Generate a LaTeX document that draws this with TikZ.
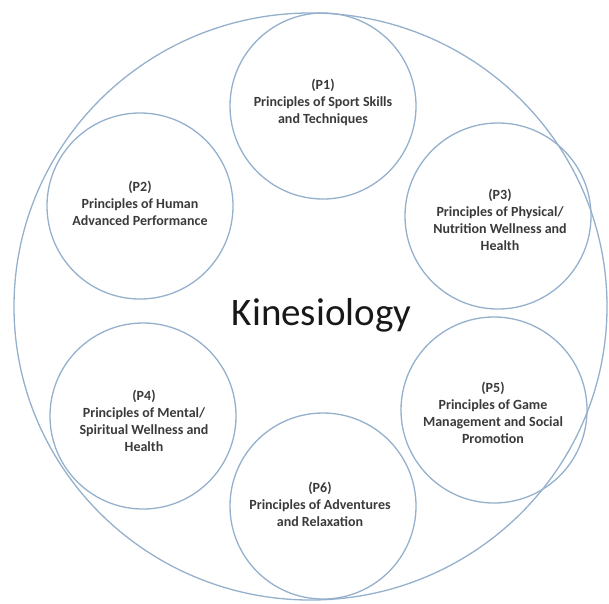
\documentclass[tikz,border=0pt]{standalone}
\usepackage{fontspec}
\setmainfont{Carlito}
\usetikzlibrary{shapes.geometric}
\definecolor{ringblue}{RGB}{148,176,204}
\definecolor{textgray}{RGB}{58,58,58}
\definecolor{titleblack}{RGB}{24,24,24}
\begin{document}
\begin{tikzpicture}[x=1pt,y=-1pt,
  ring/.style={draw=ringblue, line width=1.3pt},
  topic/.style={circle, ring, minimum size=186pt, inner sep=0pt},
  txt/.style={align=center, text=textgray,
    font=\fontsize{14}{17}\selectfont\bfseries}]
\useasboundingbox (0,0) rectangle (609,603);

% outer field
\node[ellipse, ring, minimum width=593pt, minimum height=587pt, inner sep=0pt]
  (field) at (310.5,306.5) {};

% six principle circles
\node[topic] (c1) at (323,106) {};
\node[topic] (c2) at (140,206) {};
\node[topic] (c3) at (498,216) {};
\node[topic] (c4) at (143,416) {};
\node[topic] (c5) at (494,410) {};
\node[topic] (c6) at (323,506) {};

% their texts
\node[txt] (t1) at (323,102) {(P1)\\Principles of Sport Skills\\and Techniques};
\node[txt] (t2) at (140,203) {(P2)\\Principles of Human\\Advanced Performance};
\node[txt] (t3) at (500,220) {(P3)\\Principles of Physical/\\Nutrition Wellness and\\Health};
\node[txt] (t4) at (144,421) {(P4)\\Principles of Mental/\\Spiritual Wellness and\\Health};
\node[txt] (t5) at (493,413) {(P5)\\Principles of Game\\Management and Social\\Promotion};
\node[txt] (t6) at (320,504) {(P6)\\Principles of Adventures\\and Relaxation};

% title
\node[anchor=base, text=titleblack, font=\fontsize{39}{44}\selectfont, inner sep=0pt]
  (title) at (321.5,325) {Kinesiology};
\end{tikzpicture}
\end{document}
